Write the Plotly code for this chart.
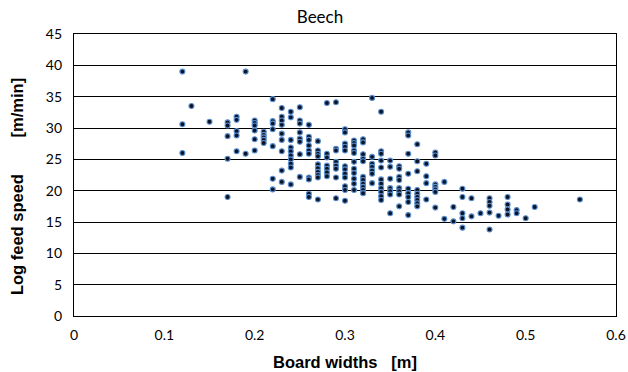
import plotly.graph_objects as go

# Board widths [m] -> list of log feed speeds [m/min] read for that width
col_widths = [0.12, 0.13, 0.15, 0.17, 0.18, 0.19, 0.20, 0.21, 0.22, 0.23, 0.24, 0.25,
              0.26, 0.27, 0.28, 0.29, 0.30, 0.31, 0.32, 0.33, 0.34, 0.35, 0.36, 0.37,
              0.38, 0.39, 0.40, 0.41, 0.42, 0.43, 0.44, 0.45, 0.46, 0.47, 0.48, 0.49,
              0.50, 0.51, 0.56]
col_speeds = [
    [39.0, 30.6, 26.0],
    [33.5],
    [31.0],
    [30.9, 30.4, 28.7, 25.1, 19.0],
    [31.8, 31.3, 29.5, 28.8, 26.3],
    [39.0, 25.9],
    [31.2, 30.8, 30.4, 29.6, 28.2, 26.4],
    [29.4, 28.9, 28.5, 28.1, 27.6],
    [34.6, 31.1, 30.7, 29.8, 27.1, 21.9, 20.2],
    [33.2, 31.8, 31.2, 30.5, 29.1, 28.1, 26.3, 23.2, 21.4],
    [32.6, 31.7, 28.1, 26.9, 26.3, 25.6, 25.0, 24.3, 23.7, 21.0],
    [33.3, 31.2, 30.7, 29.3, 28.3, 27.8, 25.8, 22.2],
    [30.5, 28.6, 28.1, 27.2, 26.4, 25.9, 22.1, 21.8, 19.5, 19.0],
    [27.9, 26.4, 25.9, 25.5, 24.2, 23.6, 23.0, 22.5, 22.1, 18.6],
    [34.0, 25.9, 25.3, 24.0, 23.5, 22.9, 22.3],
    [34.1, 26.7, 26.4, 24.6, 24.0, 23.5, 22.1, 18.8],
    [29.8, 29.3, 27.5, 27.0, 26.4, 23.9, 23.4, 22.7, 22.1, 20.7, 20.1, 18.4],
    [28.0, 27.6, 27.2, 26.4, 26.0, 24.6, 23.5, 22.8, 21.9, 21.1, 20.1],
    [28.2, 27.7, 25.8, 25.1, 24.7, 22.2, 21.7, 21.1, 20.6, 20.1, 19.6],
    [34.8, 25.4, 24.3, 23.8, 23.2, 22.7, 21.2],
    [32.6, 26.3, 25.9, 24.8, 23.7, 21.8, 21.1, 20.4, 19.8, 19.1, 18.5],
    [24.8, 23.8, 21.9, 20.4, 19.9, 19.4, 16.4],
    [23.9, 23.5, 22.2, 21.7, 20.4, 19.9, 19.4, 17.5],
    [29.3, 28.8, 25.9, 22.7, 20.3, 19.6, 19.0, 18.2, 16.1],
    [27.4, 24.7, 23.1, 20.1, 19.5, 19.0, 18.5, 18.0, 17.5],
    [24.3, 22.3, 21.2, 18.6],
    [26.1, 25.6, 21.0, 20.6, 20.2, 19.8, 17.3],
    [21.4, 15.5],
    [17.4, 15.1],
    [20.3, 19.0, 16.4, 15.6, 14.1],
    [18.8, 15.9],
    [16.4],
    [18.8, 18.2, 17.6, 16.5, 13.8],
    [16.0],
    [19.0, 17.8, 17.0, 16.2],
    [16.9, 16.4],
    [15.6],
    [17.4],
    [18.6],
]

x_ticks = [0, 0.1, 0.2, 0.3, 0.4, 0.5, 0.6]
x_tick_labels = ["0", "0.1", "0.2", "0.3", "0.4", "0.5", "0.6"]
y_ticks = [0, 5, 10, 15, 20, 25, 30, 35, 40, 45]

xs, ys = [], []
for w, speeds in zip(col_widths, col_speeds):
    for s in speeds:
        xs.append(w)
        ys.append(s)

fig = go.Figure()
fig.add_trace(go.Scatter(
    x=xs, y=ys, mode="markers",
    marker=dict(size=5, color="#0b1426", line=dict(width=1.1, color="#5a8fd0")),
    showlegend=False,
))

tick_font = dict(family="Lato, 'Liberation Sans', sans-serif", size=14, color="#000")
title_font = dict(family="'Liberation Sans', Arial, sans-serif", size=16.5, color="#000")
nb = "&nbsp;"

fig.update_layout(
    width=628, height=372,
    margin=dict(l=74, r=12, t=34, b=56),
    paper_bgcolor="white", plot_bgcolor="white",
    title=dict(text="Beech", x=320 / 628, xanchor="center", xref="container",
               y=1 - 17 / 372, yanchor="middle", yref="container",
               font=dict(family="Lato, 'Liberation Sans', sans-serif", size=17, color="#000")),
)
fig.update_xaxes(
    range=[0, 0.6], tickvals=x_ticks, ticktext=x_tick_labels,
    showgrid=False, zeroline=False, automargin=False,
    showline=True, mirror=True, linecolor="#000", linewidth=1.3,
    ticks="", tickfont=tick_font, ticklabelstandoff=6,
    title=dict(text="<b>Board widths" + nb * 3 + "[m]</b>", font=title_font, standoff=14),
)
fig.update_yaxes(
    range=[0, 45], tickvals=y_ticks,
    showgrid=True, gridcolor="#000", gridwidth=1.2, zeroline=False, automargin=False,
    showline=True, mirror=True, linecolor="#000", linewidth=1.3,
    ticks="", tickfont=tick_font, ticklabelstandoff=8,
    title=dict(text="<b>Log feed speed" + nb * 8 + "[m/min]" + nb * 5 + "</b>", font=title_font, standoff=18),
)

fig.write_html("out.html")
